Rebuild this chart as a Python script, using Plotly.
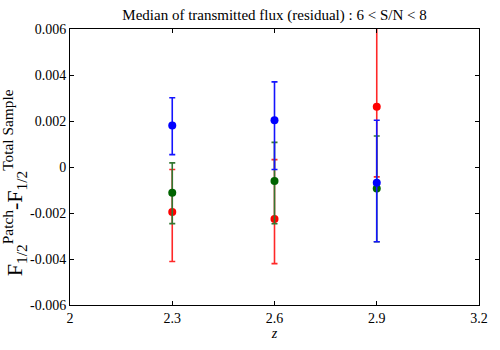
import plotly.graph_objects as go

z = [2.3, 2.6, 2.9]

red_y = [-0.00196, -0.00226, 0.00262]
red_hi = [-0.00011, 0.00032, 0.0068]
red_lo = [-0.00411, -0.00420, -0.00043]

green_y = [-0.00112, -0.00061, -0.00093]
green_hi = [0.00018, 0.00107, 0.00135]
green_lo = [-0.00246, -0.00247, -0.00325]

blue_y = [0.00180, 0.00203, -0.00068]
blue_hi = [0.00301, 0.00370, 0.00203]
blue_lo = [0.00054, -0.00011, -0.00325]

yticks = [-0.006, -0.004, -0.002, 0, 0.002, 0.004, 0.006]
ytick_text = ["-0.006", "-0.004", "-0.002", "0", "0.002", "0.004", "0.006"]
xticks = [2, 2.3, 2.6, 2.9, 3.2]
xtick_text = ["2", "2.3", "2.6", "2.9", "3.2"]

FONT = "Liberation Serif, Times New Roman, serif"

fig = go.Figure()

def add(y, hi, lo, color, linecolor):
    plus = [h - v for h, v in zip(hi, y)]
    minus = [v - l for v, l in zip(y, lo)]
    fig.add_trace(go.Scatter(
        x=z, y=y, mode="markers",
        marker=dict(color=color, size=8),
        error_y=dict(type="data", array=plus, arrayminus=minus, symmetric=False,
                     color=linecolor, thickness=1.6, width=3),
        showlegend=False, hoverinfo="skip",
    ))

add(red_y, red_hi, red_lo, "rgb(255,0,0)", "rgb(255,40,40)")
add(green_y, green_hi, green_lo, "rgb(0,100,0)", "rgb(50,120,50)")
add(blue_y, blue_hi, blue_lo, "rgb(0,0,255)", "rgb(20,20,255)")

L, R, T, B = 70, 18, 29, 32
PW, PH = 500 - L - R, 350 - T - B

fig.update_layout(
    width=500, height=350,
    margin=dict(l=L, r=R, t=T, b=B),
    plot_bgcolor="white", paper_bgcolor="white",
    hovermode=False,
    font=dict(family=FONT, size=14, color="black"),
    title=dict(text="Median of transmitted flux (residual) : 6 < S/N < 8",
               font=dict(family=FONT, size=15, color="black"),
               x=0.5, xref="paper", xanchor="center",
               y=1 - 15 / 350, yref="container", yanchor="middle"),
    xaxis=dict(range=[2, 3.2], tickvals=xticks, ticktext=xtick_text,
               showgrid=False, zeroline=False, ticklabeloverflow="allow",
               showline=True, linecolor="black", linewidth=1, mirror="allticks",
               ticks="inside", ticklen=4, tickcolor="black",
               title=dict(text="<i>z</i>", standoff=2, font=dict(size=14))),
    yaxis=dict(range=[-0.006, 0.006], tickvals=yticks, ticktext=ytick_text,
               showgrid=False, zeroline=False, ticklabeloverflow="allow",
               showline=True, linecolor="black", linewidth=1, mirror="allticks",
               ticks="inside", ticklen=4, tickcolor="black"),
    annotations=[dict(
        text="F<sub>1/2</sub><sup>Patch</sup>-F<sub>1/2</sub><sup>Total Sample</sup>",
        textangle=-90, xref="paper", yref="paper",
        x=(14 - L) / PW, y=(PH + T - 190) / PH,
        xanchor="center", yanchor="middle", showarrow=False,
        font=dict(family=FONT, size=22, color="black"),
    )],
)

fig.write_html("out.html", config={"displayModeBar": False},
               post_script="document.body.style.margin='0';")
